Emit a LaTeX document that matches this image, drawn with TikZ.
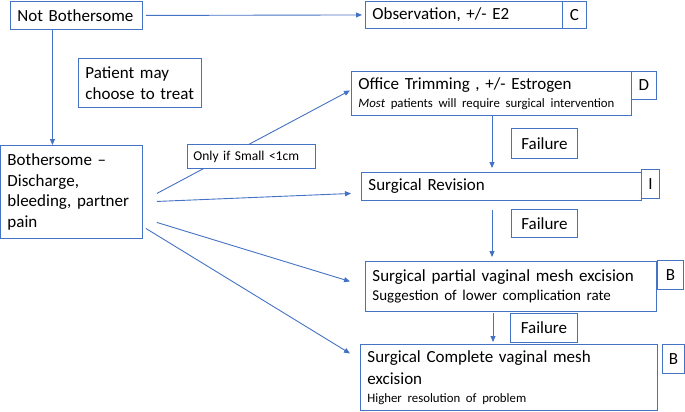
\documentclass[tikz,border=0pt]{standalone}
\usepackage{fontspec}
\setmainfont{Carlito}
\usetikzlibrary{arrows.meta}
\definecolor{lb}{HTML}{4472C4}
\newcommand{\bigtxt}{\fontsize{17}{20.5}\selectfont}
\newcommand{\smtxt}{\fontsize{12.8}{15}\selectfont}
\newcommand{\mdtxt}{\fontsize{15}{18}\selectfont}
\newcommand{\lbtxt}{\fontsize{13.5}{16}\selectfont}
\begin{document}
\begin{tikzpicture}[x=1pt,y=-1pt,
  bx/.style={draw=lb, line width=0.9pt, fill=white, inner ysep=0pt, inner xsep=7pt,
    align=left, anchor=north west, font=\bigtxt},
  lt/.style={draw=lb, line width=0.9pt, fill=white, inner sep=0pt, align=center,
    anchor=north west, font=\bigtxt},
  arr/.style={draw=lb, line width=0.9pt, -{Triangle[length=6pt,width=5pt]}},
  ln/.style={draw=lb, line width=0.9pt}]
\useasboundingbox (0,0) rectangle (685,412);

% main boxes
\node[bx, text width=118pt, minimum height=28pt] (nb) at (10,1) {Not Bothersome};
\node[bx, text width=183pt, minimum height=27pt] (obs) at (365,1) {Observation, +/- E2};
\node[lt, minimum width=24pt, minimum height=27pt] (c) at (562,1) {C};
\node[bx, text width=109pt, minimum height=49pt] (pat) at (78,58) {Patient may\\choose to treat};
\node[bx, text width=266pt, minimum height=44pt] (off) at (351,71)
  {Office Trimming , +/- Estrogen\\[-3pt]{\smtxt\textit{Most} patients will require surgical intervention}};
\node[lt, minimum width=25pt, minimum height=28pt] (d) at (631,71) {D};
\node[bx, text width=128pt, minimum height=93pt] (both) at (0,145)
  {Bothersome --\\Discharge,\\bleeding, partner\\pain};
\node[lt, minimum width=66pt, minimum height=30pt] (f1) at (511,128) {Failure};
\node[bx, text width=266pt, minimum height=28pt] (rev) at (361,172) {Surgical Revision};
\node[lt, minimum width=18pt, minimum height=29pt] (i) at (641,169) {I};
\node[lt, minimum width=66pt, minimum height=28pt] (f2) at (511,209) {Failure};
\node[bx, text width=277pt, minimum height=50pt] (part) at (365,261)
  {Surgical partial vaginal mesh excision\\[-2pt]{\mdtxt Suggestion of lower complication rate}};
\node[lt, minimum width=26pt, minimum height=29pt] (b1) at (657,260) {B};
\node[lt, minimum width=67pt, minimum height=29pt] (f3) at (510,313) {Failure};
\node[bx, text width=283pt, minimum height=66pt] (comp) at (360,344)
  {Surgical Complete vaginal mesh\\[1.5pt]excision\\[-2.5pt]{\smtxt Higher resolution of problem}};
\node[lt, minimum width=22pt, minimum height=29pt] (b2) at (662,344) {B};

% connector anchors
\coordinate (col) at (492,0);
\coordinate (s0) at ([shift={(14,1.5)}]both.east);
\coordinate (s1) at ([shift={(14,9.5)}]both.east);
\coordinate (s2) at ([shift={(14,30.5)}]both.east);
\coordinate (s3) at ([shift={(3,36.5)}]both.east);
\coordinate (e0) at ([shift={(-1,-3)}]off.west);
\coordinate (e1) at ([shift={(-10,7)}]rev.west);
\coordinate (e2) at ([shift={(-15,-5)}]part.west);
\coordinate (e3) at ([shift={(-10,-24)}]comp.west);

% connectors
\draw[arr, shorten <=3pt, shorten >=3pt] (nb.east) -- (obs.west);
\draw[arr] ([xshift=-24pt]nb.south) -- ([xshift=-19pt]both.north);
\draw[arr] (s0) -- (e0);
\draw[arr] (s1) -- (e1);
\draw[arr] (s2) -- (e2);
\draw[arr] (s3) -- (e3);
\draw[arr, shorten >=4pt] (off.south -| col) -- (rev.north -| col);
\draw[arr, shorten <=9pt, shorten >=4pt] (rev.south -| col) -- (part.north -| col);
\draw[arr, shorten <=1pt, shorten >=2pt] ([xshift=1pt]part.south -| col) -- ([xshift=1pt]comp.north -| col);

% label on the trimming connector
\node[lt, minimum width=128pt, minimum height=24pt, font=\lbtxt, inner xsep=6pt, align=left, text width=116pt] (only) at (187,144) {Only if Small <1cm};
\end{tikzpicture}
\end{document}
